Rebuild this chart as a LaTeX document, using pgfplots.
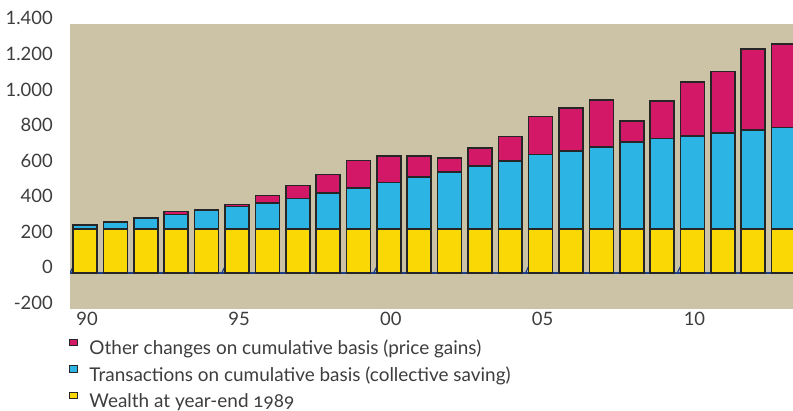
\documentclass[border=0pt]{standalone}
\usepackage{fontspec}
\setmainfont{Lato}
\newfontfamily\legendfont{Lato}[Numbers=OldStyle]
\usepackage{pgfplots}
\usepackage{pgfplotstable}
\pgfplotsset{compat=1.18}

\definecolor{bgbeige}{HTML}{CCC3A7}
\definecolor{wyellow}{HTML}{FAD806}
\definecolor{tblue}{HTML}{2CB4E4}
\definecolor{ored}{HTML}{D41868}
\definecolor{txtgray}{HTML}{3D3D3D}
\definecolor{zeronavy}{HTML}{1B3E87}
\definecolor{edge}{HTML}{262626}

% wealth at end-1989, cumulative transactions, cumulative other changes
% idx = year - 1990
\pgfplotstableread{
idx wealth trans other
0 249 21 0
1 249 39 0
2 249 62 0
3 249 79 19
4 249 105 0
5 249 124 13
6 249 146 41
7 249 170 74
8 249 202 104
9 249 230 154
10 249 259 151
11 249 291 118
12 249 319 80
13 249 351 103
14 249 382 137
15 249 418 212
16 249 437 243
17 249 461 264
18 249 487 120
19 249 508 209
20 249 523 302
21 249 538 345
22 249 555 457
23 249 568 472
}\pensiondata

\begin{document}
\begin{tikzpicture}
\useasboundingbox (0,0) rectangle (793bp,411bp);
\begin{axis}[
    at={(70bp,102.4bp)}, anchor=south west,
    scale only axis, width=723bp, height=284.6bp,
    xmin=-0.5, xmax=23.31, ymin=-200, ymax=1400,
    ybar stacked, bar width=0.79,
    axis background/.style={fill=bgbeige},
    axis line style={draw=none},
    major tick length=0pt,
    xtick={0,5,10,15,20},
    xticklabels={90,95,00,05,10},
    ytick={-200,0,...,1400},
    yticklabels={-200,0,200,400,600,800,1.000,1.200,1.400},
    tick label style={font=\fontsize{18.5}{20}\selectfont, text=txtgray},
    yticklabel style={inner sep=0pt, xshift=-17bp, yshift=5.7bp},
    xticklabel style={inner sep=0pt, yshift=-3bp, xshift=2bp},
    every axis plot/.append style={draw=edge, line width=1.6bp},
    reverse legend,
    legend image code/.code={\draw[#1, line width=1bp] (0bp,4.2bp) rectangle (7bp,11bp);},
    legend style={at={(0,0)}, anchor=north west, xshift=-0.7bp, yshift=-28bp,
        draw=none, fill=none, inner sep=0pt, row sep=0pt, column sep=12bp,
        nodes={text height=13.5bp, text depth=4bp, inner ysep=4.5bp, inner xsep=0pt,
            font=\legendfont\fontsize{19}{20}\selectfont, text=txtgray}},
    legend cell align=left,
]
\addplot[fill=wyellow] table[x=idx, y=wealth] {\pensiondata};
\addplot[fill=tblue] table[x=idx, y=trans] {\pensiondata};
\addplot[fill=ored] table[x=idx, y=other] {\pensiondata};
\legend{Wealth at year-end 1989,
    Transactions on cumulative basis (collective saving),
    Other changes on cumulative basis (price gains)}
\draw[zeronavy, line width=1.5bp] (axis cs:-0.5,0) -- (axis cs:23.31,0);
\pgfplotsinvokeforeach{-0.5,4.5,9.5,14.5,19.5}{
    \draw[zeronavy, line width=1.2bp] (axis cs:#1,0) -- ++(0,-4bp);
}
\end{axis}
\end{tikzpicture}
\end{document}
